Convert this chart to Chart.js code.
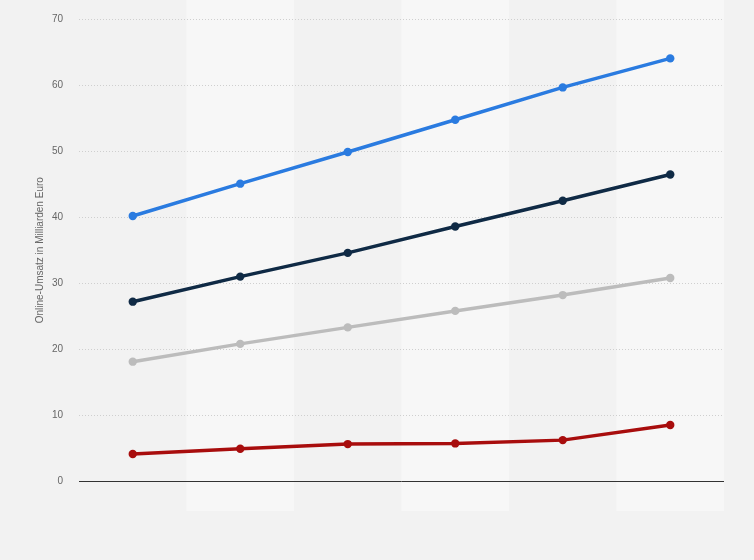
<!DOCTYPE html>
<html>
<head>
<meta charset="utf-8">
<script src="https://cdn.jsdelivr.net/npm/chart.js@4"></script>
<style>
  html, body { margin: 0; padding: 0; background: #f2f2f2; }
  #wrap { width: 754px; height: 560px; position: relative; }
</style>
</head>
<body>
<div id="wrap"><canvas id="c" width="754" height="560"></canvas></div>
<script>
const categories = ['1', '2', '3', '4', '5', '6'];
const seriesBlue = [40.2, 45.1, 49.9, 54.8, 59.7, 64.1];
const seriesNavy = [27.2, 31.0, 34.6, 38.6, 42.5, 46.5];
const seriesGray = [18.1, 20.8, 23.3, 25.8, 28.2, 30.8];
const seriesRed = [4.1, 4.9, 5.6, 5.7, 6.2, 8.5];
const yTitle = 'Online-Umsatz in Milliarden Euro';

const bandPlugin = {
  id: 'bands',
  beforeDraw(chart) {
    const { ctx, chartArea } = chart;
    const n = categories.length;
    const w = (chartArea.right - chartArea.left) / n;
    ctx.save();
    ctx.fillStyle = '#f7f7f7';
    for (let i = 1; i < n; i += 2) {
      ctx.fillRect(chartArea.left + i * w, 0, w, 511);
    }
    ctx.restore();
  }
};

const baseLine = {
  id: 'baseLine',
  beforeDatasetsDraw(chart) {
    const { ctx, chartArea } = chart;
    const y = chart.scales.y.getPixelForValue(0);
    ctx.save();
    ctx.strokeStyle = '#333333';
    ctx.lineWidth = 1;
    ctx.beginPath();
    ctx.moveTo(chartArea.left, Math.round(y) + 0.5);
    ctx.lineTo(chartArea.right, Math.round(y) + 0.5);
    ctx.stroke();
    ctx.restore();
  }
};

function ds(data, color) {
  return {
    data, borderColor: color, backgroundColor: color,
    borderWidth: 3.5, pointRadius: 4.2, pointHoverRadius: 4.2,
    pointBorderWidth: 0, tension: 0, fill: false
  };
}

new Chart(document.getElementById('c'), {
  type: 'line',
  data: {
    labels: categories,
    datasets: [
      ds(seriesBlue, '#2a7be0'),
      ds(seriesNavy, '#0f2a45'),
      ds(seriesGray, '#bcbcbc'),
      ds(seriesRed, '#a80d0d')
    ]
  },
  options: {
    responsive: false,
    animation: false,
    devicePixelRatio: 1,
    layout: { padding: { left: 34, right: 30, top: 19.5, bottom: 79 } },
    plugins: { legend: { display: false }, tooltip: { enabled: false } },
    scales: {
      x: {
        offset: true,
        grid: { display: false, drawTicks: false },
        border: { display: false },
        ticks: { display: false }
      },
      y: {
        min: 0, max: 70,
        afterFit(s) { s.width = 45; s.paddingTop = 0; s.paddingBottom = 0; },
        ticks: {
          stepSize: 10, padding: 16, color: '#666666',
          font: { family: 'Liberation Sans, Arial, sans-serif', size: 10 }
        },
        grid: { color: '#cfcfcf', drawTicks: false, lineWidth: 1 },
        border: { display: false, dash: [1, 2] },
        title: {
          display: true, text: yTitle, color: '#666666', padding: 0,
          font: { family: 'Liberation Sans, Arial, sans-serif', size: 10 }
        }
      }
    }
  },
  plugins: [bandPlugin, baseLine]
});
</script>
</body>
</html>
